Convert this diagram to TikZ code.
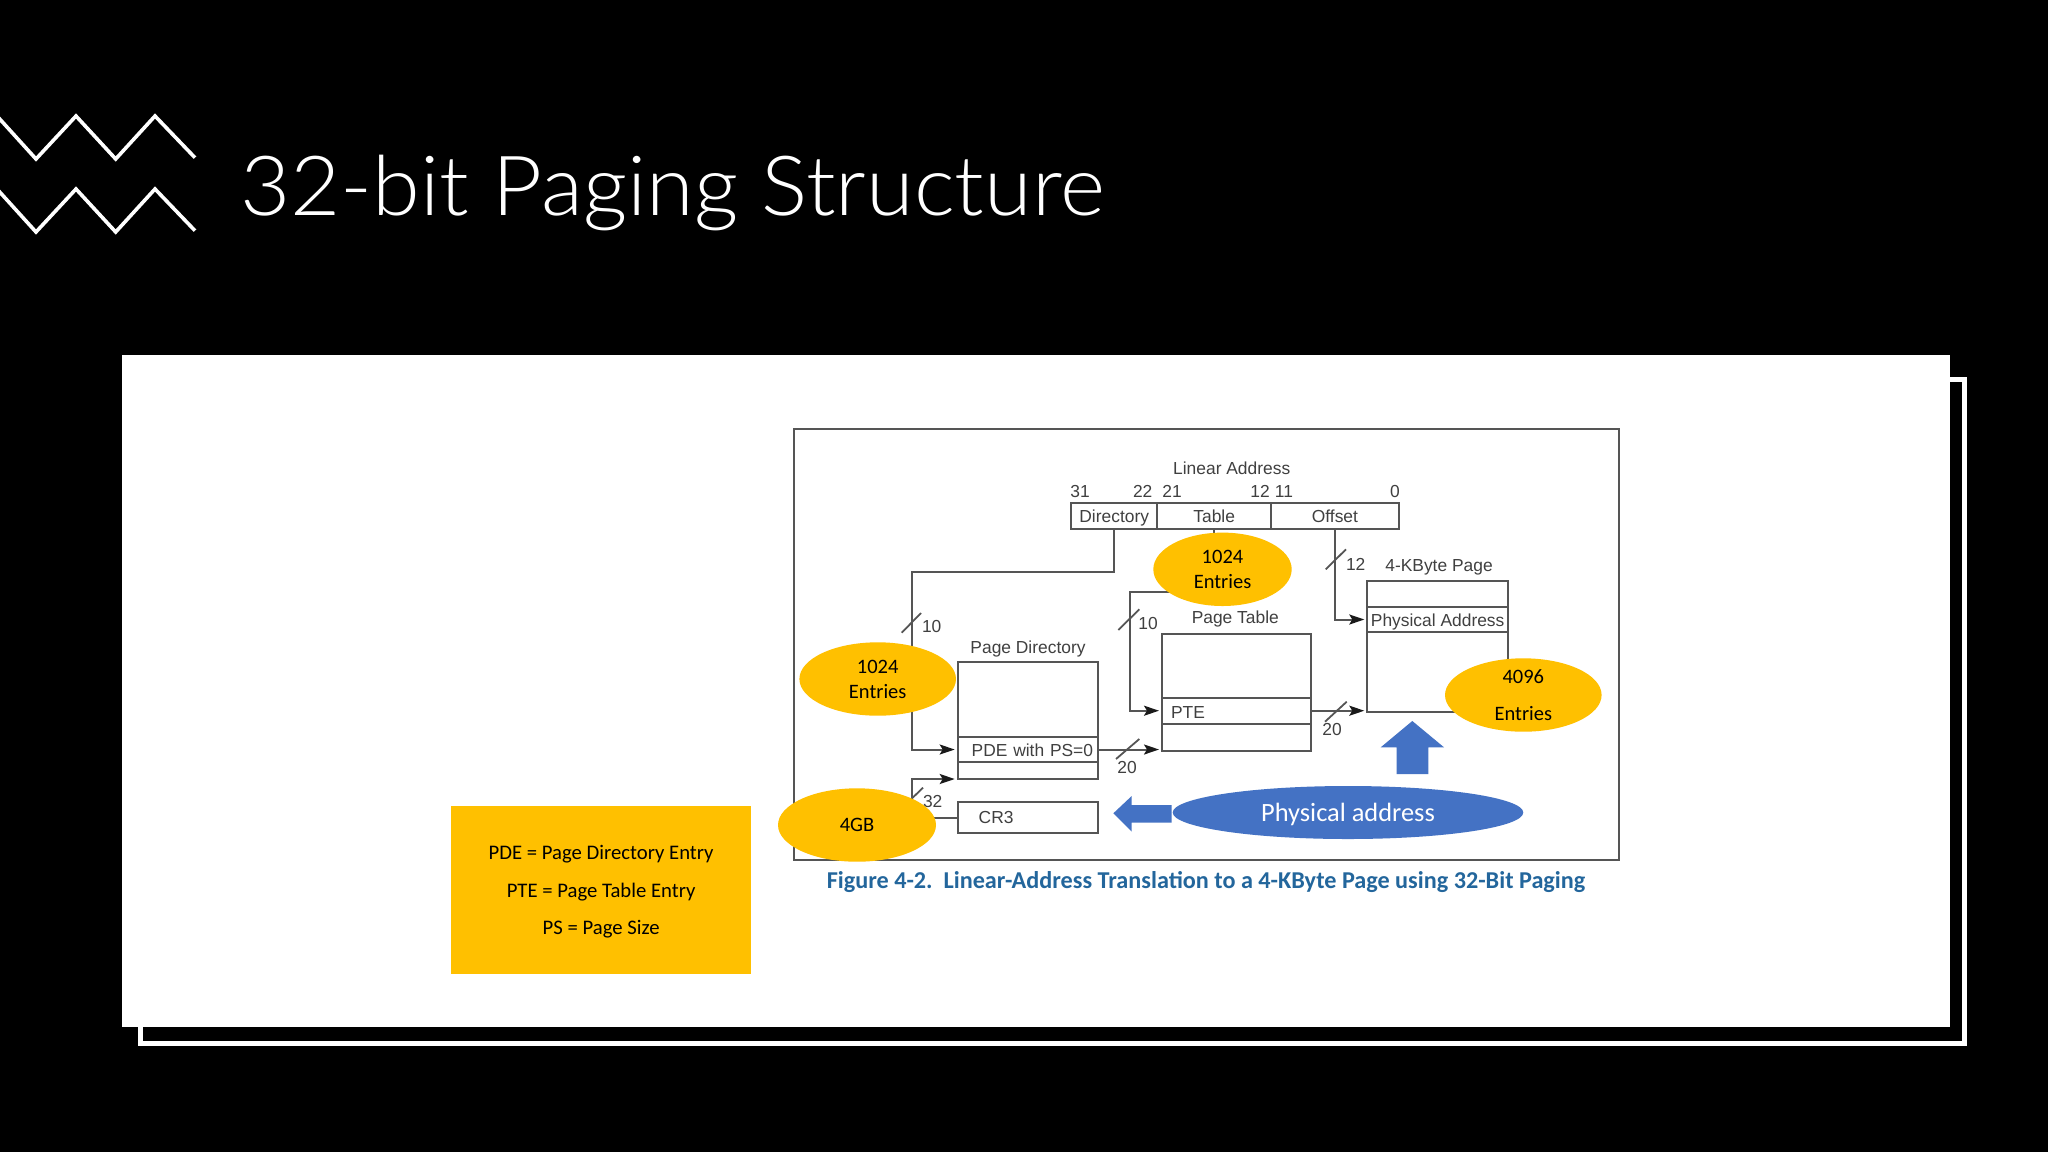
\documentclass[tikz,border=0pt]{standalone}
\usepackage{fontspec}
\setmainfont{Carlito}
\newfontfamily\figfont{Liberation Sans}
\newfontfamily\titlefont{Lato Light}[FakeStretch=1.042]
\usetikzlibrary{arrows.meta,shapes.geometric,calc}
\definecolor{amber}{HTML}{FFC000}
\definecolor{slideblue}{HTML}{4472C4}
\definecolor{figgray}{HTML}{555555}
\definecolor{figtext}{HTML}{404040}
\definecolor{capblue}{HTML}{23669C}
\definecolor{tipdark}{HTML}{1A1A1A}
\tikzset{
  cell/.style={draw=figgray,line width=1pt,fill=white,rectangle,inner sep=0pt,outer sep=0pt,font=\figfont\fontsize{8.7}{10}\selectfont,text=figtext,text height=6.3pt,text depth=0pt},
  lowcell/.style={cell,text height=7.3pt},
  figlabel/.style={inner sep=0pt,font=\figfont\fontsize{8.7}{10}\selectfont,text=figtext,text height=6.3pt,text depth=0pt},
  wire/.style={draw=figgray,line width=1pt},
  arrowwire/.style={wire,-{Stealth[length=7.5pt,width=5pt,inset=1.5pt,tipdark]},shorten >=1.5pt},
  tick/.style={draw=figgray,line width=0.9pt},
  amberoval/.style={ellipse,fill=amber,inner sep=0pt,outer sep=0pt,align=center,font=\fontsize{10.25}{12.5}\selectfont,text=black,text depth=0pt},
  zig/.style={draw=white,line width=1.8pt,line join=miter}
}
\begin{document}
\begin{tikzpicture}[x=0.5pt,y=-0.5pt]
\useasboundingbox (0,0) rectangle (2048,1152);
\fill[black] (0,0) rectangle (2048,1152);

% zigzags
\draw[zig] (-3,116) -- (36,159) -- (76,116) -- (115.7,159) -- (155,116) -- (195,157.7);
\draw[zig] (-3,189) -- (36,232) -- (76,189) -- (115.7,232) -- (155,189) -- (195,230.7);

% title
\node[anchor=base west,inner sep=0pt,text=white,font=\titlefont\fontsize{41.5}{50}\selectfont] (title) at (240,215) {32-bit Paging Structure};

% slide panel
\draw[white,line width=2.5pt] (1950,379.5) -- (1964.5,379.5) -- (1964.5,1043.5) -- (140,1043.5) -- (140,1027);
\fill[white] (121.5,355) rectangle (1950,1027);

% figure frame
\node[draw=figgray,line width=1pt,rectangle,inner sep=0pt,minimum width=412.5pt,minimum height=215.5pt] (frame) at (1206.5,644.5) {};

% linear address
\node[figlabel] (lin) at (1231.7,468) {Linear Address};
\node[cell,minimum width=43.15pt,minimum height=13.3pt] (dir) at (1114.2,516) {Directory};
\node[cell,minimum width=56.85pt,minimum height=13.3pt] (tab) at (1214.2,516) {Table};
\node[cell,minimum width=63.85pt,minimum height=13.3pt] (off) at (1334.9,516) {Offset};
\node[figlabel] (b31) at (1080,491) {31};
\node[figlabel] (b22) at (1142.7,491) {22};
\node[figlabel] (b21) at (1172,491) {21};
\node[figlabel] (b12) at (1260,491) {12};
\node[figlabel] (b11) at (1284,491) {11};
\node[figlabel] (b0) at (1395,491) {0};

% page directory
\node[figlabel] (pdl) at (1028,647.5) {Page Directory};
\node[cell,minimum width=70pt,minimum height=37.2pt] (pdtop) at (1027.7,699.5) {};
\node[lowcell,minimum height=12.8pt,inner xsep=2pt,text width=66pt,align=left] (pde) at (1027.7,749.5) {\hspace*{5pt}PDE with PS=0};
\node[cell,minimum width=70pt,minimum height=8.35pt] (pdbot) at (1027.7,770.65) {};
\node[cell,minimum height=15.2pt,inner xsep=10.5pt,text width=49pt,align=left] (cr3) at (1027.7,817.5) {CR3};

% page table
\node[figlabel] (ptl) at (1235.3,617.5) {Page Table};
\node[cell,minimum width=74.5pt,minimum height=31.85pt] (pttop) at (1236.5,665.85) {};
\node[lowcell,minimum height=13pt,inner xsep=4.5pt,text width=65.5pt,align=left] (pte) at (1236.5,710.7) {PTE};
\node[cell,minimum width=74.5pt,minimum height=13.65pt] (ptbot) at (1236.5,737.35) {};

% 4-KByte page
\node[figlabel] (pgl) at (1439,565) {4-KByte Page};
\node[cell,minimum width=70.35pt,minimum height=12.85pt] (pgtop) at (1437.65,593.85) {};
\node[lowcell,minimum width=70.35pt,minimum height=12.8pt] (pa) at (1437.65,619.5) {Physical Address};
\node[cell,minimum width=70.35pt,minimum height=39.85pt] (pgbot) at (1437.65,672.15) {};

% connectors
\coordinate (dirA) at (912.3,572);
\coordinate (tabA) at (1130,591.7);
\coordinate (crA) at (912.3,779);
\draw[arrowwire] (dir.south) |- (dirA) |- (pde.west);
\draw[arrowwire] (tab.south) |- (tabA) |- (pte.west);
\draw[arrowwire] (off.south) |- (pa.west);
\draw[arrowwire] (pde.east) -- (pde.east -| ptbot.west);
\draw[arrowwire] (pte.east) -- (pte.east -| pgbot.west);
\draw[arrowwire] (cr3.west) -| (crA) -- (pdbot.south west);

% ticks and widths
\draw[tick] (901.7,632.7) -- (921,613);
\node[figlabel] (n10a) at (931.7,626) {10};
\draw[tick] (1118.3,630) -- (1139.3,609.3);
\node[figlabel] (n10b) at (1148,623) {10};
\draw[tick] (1116,759) -- (1139.3,739);
\node[figlabel] (n20a) at (1127,767) {20};
\draw[tick] (1325,721.7) -- (1346.7,701.7);
\node[figlabel] (n20b) at (1332,729) {20};
\draw[tick] (1325.7,569.3) -- (1346,549.3);
\node[figlabel] (n12) at (1355.7,563.7) {12};
\draw[tick] (902,808) -- (923,787.7);
\node[figlabel] (n32) at (932.7,801) {32};

% caption
\node[inner sep=0pt,text=capblue,font=\bfseries\fontsize{12.1}{14}\selectfont,text height=8pt,text depth=0pt] (cap) at (1206,880) {Figure 4-2.\ \ Linear-Address Translation to a 4-KByte Page using 32-Bit Paging};

% callouts
\node[amberoval,minimum width=69.2pt,minimum height=36.7pt] (e1) at (1222.5,569.3) {1024\\Entries};
\node[amberoval,minimum width=78.3pt,minimum height=36.7pt] (e2) at (877.7,679) {1024\\Entries};
\node[amberoval,minimum width=79pt,minimum height=36.7pt] (e3) at (857,825) {4GB};
\node[amberoval,minimum width=78.3pt,minimum height=36.7pt,font=\fontsize{10.25}{18.85}\selectfont] (e4) at (1523.3,695) {4096\\Entries};
\node[ellipse,fill=slideblue,inner sep=0pt,minimum width=175.3pt,minimum height=26.5pt,text=white,font=\fontsize{13.2}{15}\selectfont,text depth=0pt] (phys) at (1348,812.5) {Physical address};

% block arrows
\fill[slideblue] (1412.3,721) -- (1444,747.3) -- (1428.3,747.3) -- (1428.3,774) -- (1396.7,774) -- (1396.7,747.3) -- (1380.7,747.3) -- cycle;
\fill[slideblue] (1113.3,813.3) -- (1131.7,796) -- (1131.7,805) -- (1171.7,805) -- (1171.7,822.7) -- (1131.7,822.7) -- (1131.7,831.7) -- cycle;

% legend
\node[rectangle,fill=amber,inner sep=0pt,minimum width=150.15pt,minimum height=83.7pt,align=center,text=black,font=\fontsize{10.35}{18.85}\selectfont,text depth=0pt] (legend) at (601.15,890) {PDE = Page Directory Entry\\PTE = Page Table Entry\\PS = Page Size};
\end{tikzpicture}
\end{document}
